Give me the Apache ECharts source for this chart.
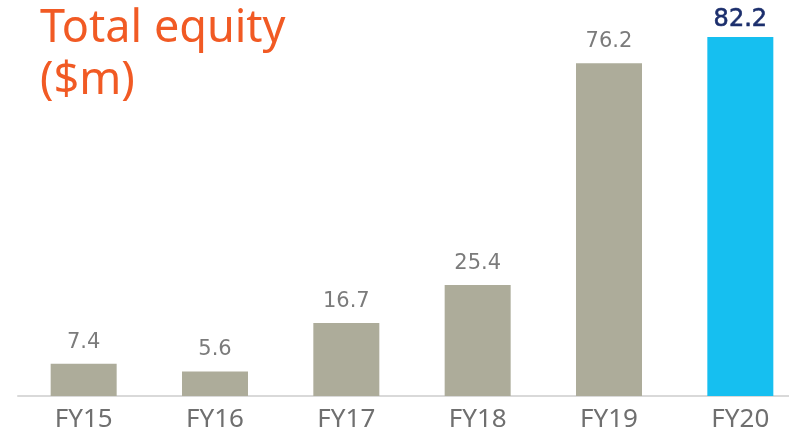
<!DOCTYPE html>
<html><head><meta charset="utf-8">
<script src="https://cdn.jsdelivr.net/npm/echarts@6/dist/echarts.min.js"></script>
<style>html,body{margin:0;padding:0;background:#fff;overflow:hidden}#c{width:806px;height:435px}</style>
</head><body><div id="c"></div>
<script>
const categories = ['FY15','FY16','FY17','FY18','FY19','FY20'];
const values = [7.4, 5.6, 16.7, 25.4, 76.2, 82.2];
const highlightIndex = 5;

const chart = echarts.init(document.getElementById('c'), null, {renderer:'canvas'});
chart.setOption({
  animation: false,
  title: {
    text: 'Total equity\n($m)',
    left: 35, top: -2,
    textStyle: {color:'#F15A24', fontSize:45, fontWeight:'normal', fontFamily:'Noto Sans', lineHeight:52}
  },
  grid: {left: 18, right: 0, top: 37, bottom: 39},
  xAxis: {
    type:'category', data: categories,
    axisLine:{lineStyle:{color:'#d9d9d9', width:2}},
    axisTick:{show:false},
    axisLabel:{color:'#6f6f6f', fontSize:26, fontFamily:'Noto Sans', margin:11}
  },
  yAxis: {type:'value', min:0, max:82.2, show:false, splitLine:{show:false}},
  series: [{
    type:'bar', barWidth: 66,
    data: values.map((v,i)=> i===highlightIndex ? {
      value:v, itemStyle:{color:'#16BFF0'},
      label:{color:'#1B2E6C', fontSize:24, textBorderColor:'#1B2E6C', textBorderWidth:0.6, distance:5}
    } : {value:v}),
    itemStyle:{color:'#ADAC9A'},
    label:{show:true, position:'top', color:'#7b7b7b', fontSize:21, fontFamily:'DejaVu Sans', distance:11}
  }]
});
</script></body></html>
